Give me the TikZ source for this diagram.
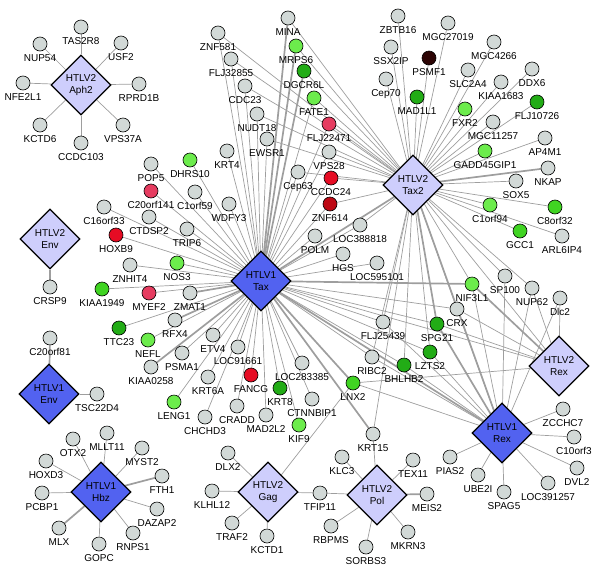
\documentclass[tikz,border=0pt]{standalone}
\usepackage{fontspec}
\setmainfont{Liberation Sans}
\usetikzlibrary{shapes.geometric,backgrounds}
\definecolor{cgray}{RGB}{210,217,215}
\definecolor{clgreen}{RGB}{108,236,76}
\definecolor{cmgreen}{RGB}{64,212,34}
\definecolor{cdgreen}{RGB}{34,172,22}
\definecolor{cred}{RGB}{230,12,36}
\definecolor{cdred}{RGB}{190,8,20}
\definecolor{cpink}{RGB}{230,60,96}
\definecolor{cbrown}{RGB}{44,4,4}
\definecolor{cvone}{RGB}{82,98,240}
\definecolor{cvtwo}{RGB}{206,206,252}
\definecolor{edgegray}{RGB}{158,158,158}
\begin{document}
\begin{tikzpicture}[x=1pt,y=-1pt,
	gene/.style={circle, draw, line width=0.6pt, minimum size=14pt, inner sep=0pt},
	lbl/.style={font=\fontsize{10}{12}\selectfont, inner sep=0.5pt, text height=7.2pt, text depth=0pt},
	hub/.style={diamond, draw, line width=1.2pt, minimum width=60pt, minimum height=60pt, inner sep=0pt, align=center, font=\fontsize{10}{12}\selectfont},
	edge/.style={draw=edgegray, line width=0.7pt},
	fat/.style={draw=edgegray, line width=1.7pt},
	label distance=2pt]
		% % Frame
			\useasboundingbox (0,0) rectangle (600,576);
		% % Virus proteins
			\node[hub, fill=cvtwo] (aph2) at (81,85) {HTLV2\\Aph2};
			\node[hub, fill=cvtwo] (env2) at (50,239) {HTLV2\\Env};
			\node[hub, fill=cvone] (env1) at (49,394) {HTLV1\\Env};
			\node[hub, fill=cvone] (hbz) at (101,492) {HTLV1\\Hbz};
			\node[hub, fill=cvone] (tax1) at (261,281) {HTLV1\\Tax};
			\node[hub, fill=cvtwo] (tax2) at (413,185) {HTLV2\\Tax2};
			\node[hub, fill=cvtwo] (gag) at (268,492) {HTLV2\\Gag};
			\node[hub, fill=cvtwo] (pol) at (377,495) {HTLV2\\Pol};
			\node[hub, fill=cvone] (rex1) at (502,433) {HTLV1\\Rex};
			\node[hub, fill=cvtwo] (rex2) at (559,366) {HTLV2\\Rex};
		% % Host proteins
			\foreach \n/\x/\y/\c in {
				TAS2R8/81/27/cgray,
				NUP54/40/44/cgray,
				USF2/121/43/cgray,
				NFE2L1/23/83/cgray,
				RPRD1B/139/84/cgray,
				KCTD6/40/125/cgray,
				VPS37A/123/125/cgray,
				CCDC103/81/143/cgray,
				POP5/151/164/cgray,
				DHRS10/190/160/clgreen,
				MINA/288/18/cgray,
				ZNF581/218/33/cgray,
				MRPS6/296/46/clgreen,
				FLJ32855/231/59/cgray,
				DGCR6L/304/71/cdgreen,
				CDC23/245/86/cgray,
				FATE1/314/98/clgreen,
				NUDT18/257/114/cgray,
				FLJ22471/329/124/cpink,
				EWSR1/267/139/cgray,
				KRT4/227/151/cgray,
				VPS28/329/152/cgray,
				Cep63/298/172/cgray,
				CCDC24/331/178/cred,
				ZBTB16/398/16/cgray,
				MGC27019/448/23/cgray,
				SSX2IP/391/47/cgray,
				PSMF1/429/58/cbrown,
				MGC4266/494/42/cgray,
				Cep70/386/79/cgray,
				SLC2A4/468/70/cgray,
				DDX6/532/69/cgray,
				KIAA1683/501/82/cgray,
				MAD1L1/417/97/cdgreen,
				FLJ10726/537/102/cdgreen,
				FXR2/465/109/clgreen,
				MGC11257/493/122/cgray,
				GADD45GIP1/485/151/clgreen,
				AP4M1/545/138/cgray,
				NKAP/548/168/cgray,
				SOX5/516/181/cgray,
				C1orf94/490/205/clgreen,
				C8orf32/555/207/cmgreen,
				GCC1/520/231/cmgreen,
				ARL6IP4/562/236/cgray,
				SP100/505/276/cgray,
				NIF3L1/472/284/clgreen,
				NUP62/532/288/cgray,
				Dlc2/560/298/cgray,
				CRX/457/309/cgray,
				SPG21/437/324/cdgreen,
				LZTS2/430/352/cdgreen,
				BHLHB2/404/365/cdgreen,
				FLJ25439/383/322/cgray,
				RIBC2/372/357/cgray,
				LNX2/353/383/cmgreen,
				LOC283385/302/363/cgray,
				KRT8/280/388/cdgreen,
				CTNNBIP1/312/399/cgray,
				KIF9/299/425/clgreen,
				KRT15/373/434/cgray,
				WDFY3/229/204/cgray,
				C1orf59/195/192/cgray,
				C20orf141/151/191/cpink,
				ZNF614/330/204/cdred,
				LOC388818/360/225/cgray,
				POLM/315/236/cgray,
				HGS/343/254/cgray,
				LOC595101/377/263/cgray,
				ETV4/213/335/cgray,
				LOC91661/238/347/cgray,
				FANCG/251/375/cred,
				TRIP6/187/229/cgray,
				CTDSP2/149/217/cgray,
				C16orf33/104/207/cgray,
				HOXB9/116/235/cred,
				NOS3/177/263/clgreen,
				ZNHIT4/130/265/cgray,
				KIAA1949/102/289/cmgreen,
				MYEF2/149/293/cpink,
				ZMAT1/190/293/cgray,
				RFX4/175/320/cgray,
				TTC23/119/328/cdgreen,
				NEFL/148/340/clgreen,
				PSMA1/182/353/cgray,
				KIAA0258/151/367/cgray,
				KRT6A/208/377/cgray,
				LENG1/174/402/clgreen,
				CHCHD3/205/417/cgray,
				CRADD/237/406/cgray,
				MAD2L2/266/415/cgray,
				CRSP9/50/287/cgray,
				C20orf81/50/338/cgray,
				TSC22D4/97/394/cgray,
				OTX2/73/439/cgray,
				MLLT11/107/433/cgray,
				HOXD3/46/461/cgray,
				MYST2/142/448/cgray,
				FTH1/162/476/cgray,
				PCBP1/42/493/cgray,
				DAZAP2/157/509/cgray,
				RNPS1/133/533/cgray,
				MLX/59/528/cgray,
				GOPC/99/544/cgray,
				DLX2/228/453/cgray,
				KLHL12/212/491/cgray,
				TRAF2/232/523/cgray,
				KCTD1/267/536/cgray,
				TFIP11/320/493/cgray,
				KLC3/342/457/cgray,
				RBPMS/331/526/cgray,
				SORBS3/366/547/cgray,
				TEX11/413/460/cgray,
				MEIS2/427/494/cgray,
				MKRN3/408/532/cgray,
				ZCCHC7/563/409/cgray,
				C10orf3/574/437/cgray,
				DVL2/577/468/cgray,
				LOC391257/548/483/cgray,
				SPAG5/504/492/cgray,
				UBE2I/478/475/cgray,
				PIAS2/450/457/cgray}{
				\node[gene, fill=\c, label={[lbl]below:\n}] (\n) at (\x,\y) {};
			}
		% % Interactions
			\begin{scope}[on background layer]
				\foreach \g in {TAS2R8,NUP54,USF2,NFE2L1,RPRD1B,KCTD6,VPS37A,CCDC103}
					\draw[edge] (aph2) -- (\g);
				\draw[fat] (env2) -- (CRSP9);
				\draw[fat] (env1) -- (C20orf81);
				\draw[edge] (env1) -- (TSC22D4);
				\foreach \g in {OTX2,MLLT11,HOXD3,MYST2,PCBP1,DAZAP2,RNPS1,GOPC}
					\draw[edge] (hbz) -- (\g);
				\foreach \g in {FTH1,MLX}
					\draw[fat] (hbz) -- (\g);
				\foreach \g in {DLX2,KLHL12,TRAF2,KCTD1,TFIP11,LNX2}
					\draw[edge] (gag) -- (\g);
				\foreach \g in {TFIP11,KLC3,RBPMS,SORBS3,TEX11,MKRN3,KRT15}
					\draw[edge] (pol) -- (\g);
				\draw[fat] (pol) -- (MEIS2);
				\foreach \g in {ZCCHC7,C10orf3,DVL2,LOC391257,SPAG5,UBE2I,PIAS2,
						CRX,LZTS2,BHLHB2,LNX2,RIBC2,FLJ25439,SP100,NUP62,Dlc2,NIF3L1}
					\draw[edge] (rex1) -- (\g);
				\draw[fat] (rex1) -- (SPG21);
				\foreach \g in {Dlc2,NUP62,CRX,LNX2,SPG21}
					\draw[edge] (rex2) -- (\g);
				\draw[fat] (rex2) -- (NIF3L1);
				\foreach \g in {ZBTB16,SSX2IP,Cep70,PSMF1,MAD1L1,MGC27019,SLC2A4,MGC4266,
						FXR2,KIAA1683,DDX6,MGC11257,FLJ10726,GADD45GIP1,AP4M1,SOX5,
						C1orf94,C8orf32,GCC1,ARL6IP4,MINA,ZNF581,MRPS6,FLJ32855,DGCR6L,
						CDC23,FATE1,NUDT18,FLJ22471,EWSR1,VPS28,Cep63,CCDC24,ZNF614,
						LOC388818,CRX,LZTS2,BHLHB2,FLJ25439,RIBC2,KRT15,SP100,NUP62,
						NIF3L1,rex2}
					\draw[edge] (tax2) -- (\g);
				\foreach \g in {NKAP,SPG21,rex1,tax1}
					\draw[fat] (tax2) -- (\g);
				\foreach \g in {ZNF581,FLJ32855,CDC23,FATE1,NUDT18,FLJ22471,EWSR1,
						VPS28,Cep63,CCDC24,ZNF614,KRT4,DHRS10,POP5,C20orf141,C1orf59,
						WDFY3,C16orf33,CTDSP2,TRIP6,HOXB9,NOS3,ZNHIT4,KIAA1949,MYEF2,
						TTC23,NEFL,PSMA1,ETV4,LOC91661,KRT6A,LENG1,CHCHD3,CRADD,FANCG,
						MAD2L2,KRT8,LOC283385,CTNNBIP1,KIF9,POLM,HGS,LOC388818,LOC595101,
						CRX,SPG21,LZTS2,BHLHB2,FLJ25439,RIBC2,rex2}
					\draw[edge] (tax1) -- (\g);
				\foreach \g in {NIF3L1,KRT15,rex1,ZMAT1,RFX4,KIAA0258,LNX2,MINA,DGCR6L,MRPS6}
					\draw[fat] (tax1) -- (\g);
			\end{scope}
\end{tikzpicture}
\end{document}
